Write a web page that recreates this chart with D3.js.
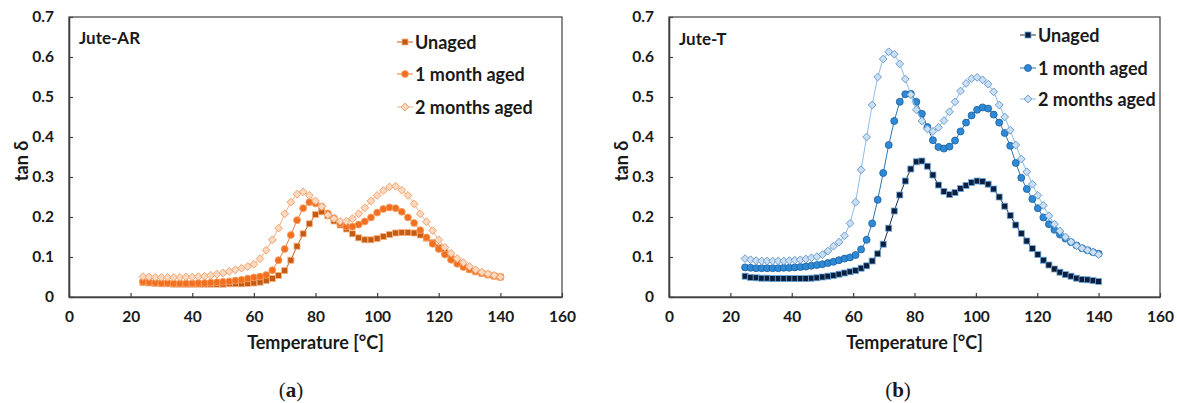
<!DOCTYPE html>
<html><head><meta charset="utf-8">
<script src="https://cdn.jsdelivr.net/npm/d3@7"></script>
<style>
html,body{margin:0;padding:0;background:#fff;}
svg text{font-family:Lato,"Open Sans",sans-serif;font-weight:bold;fill:#1a1a1a;}
</style></head>
<body><svg id="c" width="1177" height="403"></svg>
<script>
// ---------- DATA ----------
const tempsAR = [24,26,28,30,32,34,36,38,40,42,44,46,48,50,52,54,56,58,60,62,64,66,68,70,72,74,76,78,80,82,84,86,88,90,92,94,96,98,100,102,104,106,108,110,112,114,116,118,120,122,124,126,128,130,132,134,136,138,140];
const arUnaged = [0.036,0.035,0.034,0.033,0.033,0.032,0.032,0.032,0.032,0.032,0.032,0.032,0.032,0.032,0.033,0.033,0.033,0.034,0.035,0.037,0.041,0.046,0.054,0.066,0.092,0.127,0.158,0.183,0.206,0.213,0.203,0.190,0.180,0.170,0.158,0.148,0.143,0.143,0.146,0.151,0.156,0.160,0.161,0.161,0.160,0.155,0.147,0.136,0.124,0.111,0.097,0.086,0.077,0.069,0.063,0.059,0.055,0.052,0.050];
const arMonth1 = [0.038,0.037,0.036,0.035,0.035,0.034,0.034,0.034,0.034,0.035,0.035,0.036,0.037,0.038,0.039,0.041,0.043,0.046,0.049,0.051,0.055,0.067,0.092,0.120,0.155,0.192,0.222,0.237,0.234,0.226,0.209,0.197,0.184,0.176,0.176,0.181,0.189,0.199,0.211,0.220,0.224,0.222,0.213,0.199,0.185,0.167,0.149,0.133,0.120,0.106,0.093,0.083,0.075,0.069,0.064,0.060,0.056,0.053,0.050];
const arMonth2 = [0.051,0.050,0.049,0.049,0.049,0.049,0.049,0.050,0.050,0.051,0.052,0.054,0.057,0.060,0.064,0.068,0.072,0.076,0.082,0.096,0.117,0.143,0.172,0.208,0.237,0.257,0.263,0.254,0.240,0.226,0.205,0.196,0.189,0.189,0.196,0.208,0.223,0.240,0.254,0.266,0.275,0.277,0.267,0.254,0.233,0.208,0.188,0.166,0.143,0.124,0.109,0.096,0.086,0.076,0.068,0.062,0.058,0.054,0.050];

const tempsT = [24.8,26.6,28.4,30.2,32.0,33.8,35.6,37.4,39.2,41.0,42.8,44.6,46.4,48.2,50.0,51.8,53.6,55.4,57.2,59.0,60.8,62.6,64.4,66.2,68.0,69.8,71.6,73.4,75.2,77.0,78.8,80.6,82.4,84.2,86.0,87.8,89.6,91.4,93.2,95.0,96.8,98.6,100.4,102.2,104.0,105.8,107.6,109.4,111.2,113.0,114.8,116.6,118.4,120.2,122.0,123.8,125.6,127.4,129.2,131.0,132.8,134.6,136.4,138.2,140.0];
const tUnaged = [0.052,0.049,0.048,0.047,0.047,0.046,0.046,0.046,0.046,0.046,0.046,0.046,0.047,0.048,0.050,0.052,0.054,0.057,0.060,0.063,0.066,0.072,0.078,0.090,0.108,0.132,0.172,0.215,0.255,0.290,0.320,0.338,0.340,0.327,0.305,0.280,0.264,0.256,0.261,0.271,0.279,0.286,0.290,0.289,0.282,0.270,0.250,0.227,0.204,0.180,0.159,0.140,0.121,0.106,0.092,0.080,0.070,0.062,0.056,0.052,0.047,0.044,0.043,0.041,0.039];
const tMonth1 = [0.074,0.073,0.072,0.072,0.072,0.072,0.072,0.073,0.073,0.074,0.075,0.076,0.078,0.080,0.082,0.085,0.088,0.092,0.096,0.099,0.105,0.119,0.143,0.184,0.243,0.310,0.380,0.440,0.488,0.507,0.508,0.488,0.458,0.425,0.392,0.375,0.371,0.376,0.391,0.414,0.436,0.454,0.468,0.474,0.471,0.456,0.436,0.410,0.378,0.335,0.298,0.270,0.245,0.222,0.199,0.182,0.168,0.156,0.146,0.137,0.129,0.122,0.117,0.112,0.108];
const tMonth2 = [0.096,0.093,0.091,0.090,0.090,0.090,0.090,0.090,0.091,0.092,0.093,0.095,0.098,0.101,0.106,0.115,0.127,0.137,0.153,0.184,0.237,0.318,0.400,0.480,0.550,0.595,0.613,0.607,0.583,0.545,0.506,0.468,0.440,0.420,0.414,0.424,0.441,0.463,0.488,0.515,0.534,0.546,0.549,0.543,0.532,0.513,0.480,0.450,0.417,0.380,0.345,0.313,0.282,0.254,0.229,0.203,0.182,0.165,0.150,0.138,0.128,0.122,0.117,0.112,0.106];

const seriesNames = ["Unaged","1 month aged","2 months aged"];
const xTicks = [0,20,40,60,80,100,120,140,160];
const yTicks = [0,0.1,0.2,0.3,0.4,0.5,0.6,0.7];

// ---------- STYLES ----------
const stylesAR = [
  {shape:"square", fill:"#C55A11", stroke:"#F4B183", line:"#C55A11"},
  {shape:"circle", fill:"#F26F1E", stroke:"#F6A26A", line:"#ED7D31"},
  {shape:"diamond", fill:"#FBD9C0", stroke:"#F29A5C", line:"#F4B183"}
];
const stylesT = [
  {shape:"square", fill:"#0A1F3D", stroke:"#6FA8DC", line:"#1F2F4A"},
  {shape:"circle", fill:"#2E8AD6", stroke:"#1C5E9C", line:"#2E75B6"},
  {shape:"diamond", fill:"#CADFF3", stroke:"#5E93C8", line:"#8DBBE6"}
];

const svg = d3.select("#c");

function marker(g, shape, cx, cy, st) {
  if (shape === "square") {
    g.append("rect").attr("x", cx-3).attr("y", cy-3).attr("width",6).attr("height",6)
     .attr("fill", st.fill).attr("stroke", st.stroke).attr("stroke-width",0.8);
  } else if (shape === "circle") {
    g.append("circle").attr("cx",cx).attr("cy",cy).attr("r",3.5)
     .attr("fill", st.fill).attr("stroke", st.stroke).attr("stroke-width",0.8);
  } else {
    const r = 3.9;
    g.append("path").attr("d",`M${cx},${cy-r}L${cx+r},${cy}L${cx},${cy+r}L${cx-r},${cy}Z`)
     .attr("fill", st.fill).attr("stroke", st.stroke).attr("stroke-width",0.9);
  }
}

function panel(cfg) {
  const x = d3.scaleLinear().domain([0,160]).range([cfg.x0, cfg.x1]);
  const y = d3.scaleLinear().domain([0,0.7]).range([297, 17]);
  const g = svg.append("g");

  g.append("rect").attr("x",cfg.x0).attr("y",y(0.7)).attr("width",cfg.x1-cfg.x0).attr("height",y(0)-y(0.7))
   .attr("fill","none").attr("stroke","#404040").attr("stroke-width",1.2);

  const xa = g.append("g").attr("transform",`translate(0,${y(0)})`)
    .call(d3.axisBottom(x).tickValues(xTicks).tickSizeInner(-4).tickSizeOuter(0).tickPadding(14).tickFormat(d3.format("d")));
  const ya = g.append("g").attr("transform",`translate(${cfg.x0},0)`)
    .call(d3.axisLeft(y).tickValues(yTicks).tickSizeInner(-4).tickSizeOuter(0).tickPadding(15).tickFormat(d => d===0 ? "0" : d3.format(".1f")(d)));
  [xa,ya].forEach(a => {
    a.select(".domain").attr("stroke","#404040").attr("stroke-width",1.6);
    a.selectAll(".tick line").attr("stroke","#404040").attr("stroke-width",1.2);
    a.selectAll(".tick text").attr("font-size",15.5).attr("fill","#1a1a1a").style("font-weight","bold");
  });

  cfg.series.forEach((vals, i) => {
    const st = cfg.styles[i];
    const sg = g.append("g");
    const pts = cfg.temps.map((t,k) => [x(t), y(vals[k])]);
    sg.append("path").attr("d", d3.line()(pts)).attr("fill","none").attr("stroke", st.line).attr("stroke-width",1);
    pts.forEach(p => marker(sg, st.shape, p[0], p[1], st));
  });

  g.append("text").attr("x",(cfg.x0+cfg.x1)/2).attr("y",349).attr("text-anchor","middle")
   .attr("font-size",18).text("Temperature [°C]");
  g.append("text").attr("transform",`translate(${cfg.x0-41},${(y(0)+y(0.7))/2+4}) rotate(-90)`)
   .attr("text-anchor","middle").attr("font-size",18).text("tan δ");
  g.append("text").attr("x",cfg.x0+10).attr("y",cfg.labelY).attr("font-size",17).text(cfg.label);

  seriesNames.forEach((n,i) => {
    const st = cfg.styles[i];
    const ly = cfg.legY[i];
    g.append("line").attr("x1",cfg.legX).attr("x2",cfg.legX+16).attr("y1",ly).attr("y2",ly)
     .attr("stroke",st.line).attr("stroke-width",1);
    marker(g, st.shape, cfg.legX+8, ly, st);
    g.append("text").attr("x",cfg.legX+18).attr("y",ly+6.5).attr("font-size",18).text(n);
  });

  const cap = svg.append("text").attr("x",cfg.capX).attr("y",397).attr("text-anchor","middle")
    .style("font-family","'Liberation Serif','DejaVu Serif',serif").style("font-weight","normal").attr("font-size",21);
  cap.append("tspan").text("(");
  cap.append("tspan").style("font-weight","bold").text(cfg.cap);
  cap.append("tspan").text(")");
}

panel({x0:69, x1:562, temps:tempsAR, series:[arUnaged,arMonth1,arMonth2], styles:stylesAR,
       label:"Jute-AR", labelY:44, legX:397, legY:[42,74,107], capX:291, cap:"a"});
panel({x0:669, x1:1160, temps:tempsT, series:[tUnaged,tMonth1,tMonth2], styles:stylesT,
       label:"Jute-T", labelY:45, legX:1020, legY:[35,68,99], capX:898, cap:"b"});
</script></body></html>
